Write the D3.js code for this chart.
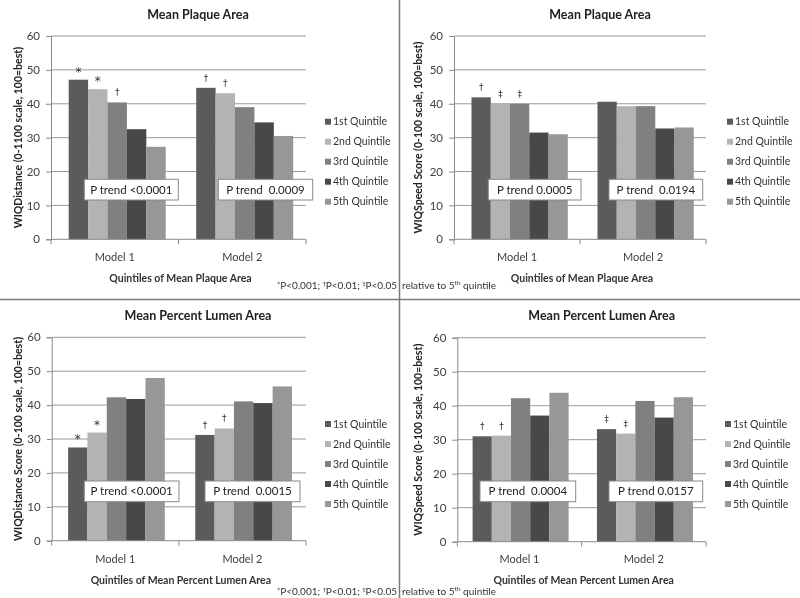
<!DOCTYPE html>
<html><head><meta charset="utf-8">
<script src="https://cdn.jsdelivr.net/npm/d3@7"></script>
<style>
body{margin:0;background:#fff;}
svg{will-change:transform;}
svg text{font-family:Lato,"Open Sans",sans-serif;}
svg .sym{font-family:"DejaVu Sans","Liberation Sans",sans-serif;}
</style></head>
<body><svg id="c" width="800" height="598"></svg>
<script>
// ---------- data ----------
const quintiles = ["1st Quintile","2nd Quintile","3rd Quintile","4th Quintile","5th Quintile"];
const models = ["Model 1","Model 2"];
const yTicks = [0,10,20,30,40,50,60];
const titles = ["Mean Plaque Area","Mean Plaque Area","Mean Percent Lumen Area","Mean Percent Lumen Area"];
const yTitles = ["WIQDistance (0-1100 scale, 100=best)","WIQSpeed Score (0-100 scale, 100=best)",
                 "WIQDistance Score (0-100 scale, 100=best)","WIQSpeed Score (0-100 scale, 100=best)"];
const xTitles = ["Quintiles of Mean Plaque Area","Quintiles of Mean Plaque Area",
                 "Quintiles of Mean Percent Lumen Area","Quintiles of Mean Percent Lumen Area"];
const plaqueDistance = [[47.1,44.3,40.4,32.5,27.3],[44.7,43.1,39.0,34.5,30.5]];
const plaqueSpeed    = [[41.9,40.0,40.0,31.5,31.0],[40.6,39.3,39.3,32.7,33.0]];
const lumenDistance  = [[27.5,31.9,42.3,41.8,48.0],[31.2,33.1,41.1,40.6,45.5]];
const lumenSpeed     = [[31.0,31.2,42.2,37.1,43.8],[33.1,31.8,41.4,36.5,42.5]];
const plaqueDistanceSig = [["*","*","†","",""],["†","†","","",""]];
const plaqueSpeedSig    = [["†","‡","‡","",""],["","","","",""]];
const lumenDistanceSig  = [["*","*","","",""],["†","†","","",""]];
const lumenSpeedSig     = [["†","†","","",""],["‡","‡","","",""]];
const pTrends = [["P trend <0.0001","P trend  0.0009"],["P trend 0.0005","P trend  0.0194"],
                 ["P trend <0.0001","P trend  0.0015"],["P trend  0.0004","P trend 0.0157"]];

// ---------- layout ----------
const colors = ["#5b5b5b","#b3b3b3","#808080","#484848","#979797"];
const svg = d3.select("#c");

const panels = [
  {vals:plaqueDistance, sig:plaqueDistanceSig, x0:51, x1:306, yZero:239.3, yTop:36, off:17.7, gw:97, tx:198, ty:19,
   ylx:18, lgx:325, lgy:121.7, boxes:[[84.3,178.3],[218.3,312.7]], by:[179.3,200], xly:261, xty:282},
  {vals:plaqueSpeed, sig:plaqueSpeedSig, x0:454, x1:706, yZero:239.3, yTop:36, off:17.5, gw:96.3, tx:600, ty:19,
   ylx:418, lgx:727, lgy:121.7, boxes:[[488.3,581],[609,702.7]], by:[179.3,200], xly:261, xty:282},
  {vals:lumenDistance, sig:lumenDistanceSig, x0:51.7, x1:306, yZero:540.7, yTop:337.3, off:16.4, gw:96.7, tx:198, ty:320,
   ylx:18, lgx:325, lgy:424, boxes:[[84.3,179],[205,300]], by:[481,501.7], xly:563, xty:584},
  {vals:lumenSpeed, sig:lumenSpeedSig, x0:457.3, x1:706, yZero:541.7, yTop:337.7, off:15.3, gw:96, tx:601.7, ty:320,
   ylx:418, lgx:725, lgy:424, boxes:[[480,575.7],[609,702.7]], by:[481,501.7], xly:563, xty:584}
];

panels.forEach((p,pi)=>{
  const g = svg.append("g");
  const y = d3.scaleLinear().domain([0,60]).range([p.yZero,p.yTop]);
  const x = d3.scaleBand().domain(models).range([p.x0,p.x1]).padding(0);
  const xq = d3.scaleBand().domain(quintiles).range([p.off,p.off+p.gw]).padding(0);

  // gridlines
  g.selectAll(".grid").data(yTicks.filter(t=>t>0)).join("line")
    .attr("x1",p.x0).attr("x2",p.x1).attr("y1",d=>y(d)).attr("y2",d=>y(d))
    .attr("stroke","#9a9a9a").attr("stroke-width",1);

  // y axis
  const ya = g.append("g").attr("transform",`translate(${p.x0},0)`)
    .call(d3.axisLeft(y).tickValues(yTicks).tickSize(5).tickPadding(6));
  ya.select(".domain").attr("stroke","#8a8a8a");
  ya.selectAll(".tick line").attr("stroke","#8a8a8a");
  ya.selectAll("text").attr("font-size","11.5px").attr("fill","#404040").style("font-family","Lato,sans-serif");

  // bars
  models.forEach((m,mi)=>{
    g.selectAll(null).data(p.vals[mi]).join("rect")
      .attr("x",(d,i)=>x(m)+xq(quintiles[i])).attr("width",xq.bandwidth())
      .attr("y",d=>y(d)).attr("height",d=>y(0)-y(d))
      .attr("fill",(d,i)=>colors[i]);
    g.selectAll(null).data(p.sig[mi]).join("text")
      .attr("class","sym")
      .attr("x",(d,i)=>x(m)+xq(quintiles[i])+xq.bandwidth()/2)
      .attr("y",(d,i)=>y(p.vals[mi][i])-(d==="*"?4:7))
      .attr("text-anchor","middle").attr("font-size",d=>d==="*"?"12px":"9px").attr("fill","#333")
      .text(d=>d);
  });

  // x axis
  g.append("line").attr("x1",p.x0).attr("x2",p.x1).attr("y1",p.yZero).attr("y2",p.yZero).attr("stroke","#8a8a8a");
  [p.x0,(p.x0+p.x1)/2,p.x1].forEach(t=>{
    g.append("line").attr("x1",t).attr("x2",t).attr("y1",p.yZero).attr("y2",p.yZero+5).attr("stroke","#8a8a8a");
  });
  g.selectAll(null).data(models).join("text")
    .attr("x",d=>x(d)+x.bandwidth()/2).attr("y",p.xly).attr("text-anchor","middle")
    .attr("font-size","11px").attr("fill","#404040").text(d=>d);

  // titles
  g.append("text").attr("x",p.tx).attr("y",p.ty).attr("text-anchor","middle")
    .attr("font-size","12.5px").attr("font-weight","bold").attr("fill","#222").text(titles[pi]);
  g.append("text").attr("x",(p.x0+p.x1)/2+2).attr("y",p.xty).attr("text-anchor","middle")
    .attr("font-size","10.5px").attr("font-weight","bold").attr("fill","#333").text(xTitles[pi]);
  g.append("text").attr("transform",`translate(${p.ylx},${(p.yZero+p.yTop)/2}) rotate(-90)`)
    .attr("text-anchor","middle").attr("dy","0.35em")
    .attr("font-size","10.5px").attr("font-weight","bold").attr("fill","#222").text(yTitles[pi]);

  // legend
  quintiles.forEach((q,i)=>{
    const ly = p.lgy + i*20;
    g.append("rect").attr("x",p.lgx).attr("y",ly-3).attr("width",6).attr("height",6).attr("fill",colors[i]);
    g.append("text").attr("x",p.lgx+8).attr("y",ly).attr("dy","0.35em")
      .attr("font-size","10.5px").attr("fill","#333").text(q);
  });

  // p-trend boxes
  p.boxes.forEach((b,bi)=>{
    g.append("rect").attr("x",b[0]).attr("y",p.by[0]).attr("width",b[1]-b[0]).attr("height",p.by[1]-p.by[0])
      .attr("fill","#fff").attr("stroke","#8a8a8a").attr("stroke-width",1);
    g.append("text").attr("x",(b[0]+b[1])/2).attr("y",(p.by[0]+p.by[1])/2).attr("dy","0.35em")
      .attr("text-anchor","middle").attr("font-size","11.5px").attr("fill","#222")
      .style("white-space","pre").text(pTrends[pi][bi]);
  });
});

// dividers
svg.append("line").attr("x1",399.5).attr("x2",399.5).attr("y1",0).attr("y2",598).attr("stroke","#7a7a7a").attr("stroke-width",1.5);
svg.append("line").attr("x1",0).attr("x2",800).attr("y1",299.5).attr("y2",299.5).attr("stroke","#7a7a7a").attr("stroke-width",1.5);

// footnotes
[[289],[595]].forEach(([fy])=>{
  const t = svg.append("text").attr("x",397).attr("y",fy).attr("text-anchor","end")
    .attr("font-size","10px").attr("fill","#333");
  t.append("tspan").attr("class","sym").attr("font-size","6px").attr("dy","-3").text("*");
  t.append("tspan").attr("dy","3").text("P<0.001; ");
  t.append("tspan").attr("class","sym").attr("font-size","6px").attr("dy","-3").text("†");
  t.append("tspan").attr("dy","3").text("P<0.01; ");
  t.append("tspan").attr("class","sym").attr("font-size","6px").attr("dy","-3").text("‡");
  t.append("tspan").attr("dy","3").text("P<0.05");
  const r = svg.append("text").attr("x",402).attr("y",fy).attr("font-size","10px").attr("fill","#333");
  r.append("tspan").text("relative to 5");
  r.append("tspan").attr("font-size","6.5px").attr("dy","-4").text("th");
  r.append("tspan").attr("dy","4").text(" quintile");
});
</script></body></html>
